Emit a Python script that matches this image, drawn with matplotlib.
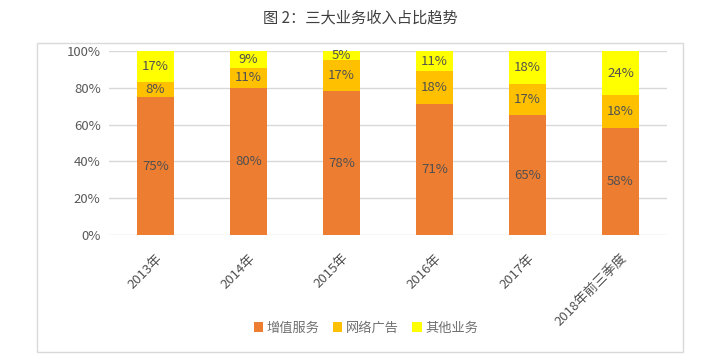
import numpy as np
import matplotlib.pyplot as plt
from matplotlib.patches import Rectangle

plt.rcParams['font.family'] = ['Noto Sans CJK SC', 'DejaVu Sans']

# Data
categories = ['2013年', '2014年', '2015年', '2016年', '2017年', '2018年前三季度']
series_names = ['增值服务', '网络广告', '其他业务']
value_added = [75, 80, 78, 71, 65, 58]
online_ads = [8, 11, 17, 18, 17, 18]
other_biz = [17, 9, 5, 11, 18, 24]
colors = ['#ED7D31', '#FFC000', '#FFFF00']

fig = plt.figure(figsize=(7.2, 3.54), dpi=100)
fig.patch.set_facecolor('white')

# outer chart border
fig.add_artist(Rectangle((37 / 720, 1 - 352 / 354), (683 - 37) / 720, (352 - 43) / 354,
                         transform=fig.transFigure, fill=False, edgecolor='#D9D9D9', lw=1))

ax = fig.add_axes([109 / 720, 1 - 235 / 354, (667 - 109) / 720, (235 - 51) / 354])

x = np.arange(len(categories))
bottom = np.zeros(len(categories))
for name, vals, c in zip(series_names, [value_added, online_ads, other_biz], colors):
    vals = np.array(vals, dtype=float)
    ax.bar(x, vals, 0.4, bottom=bottom, color=c, label=name, zorder=3)
    for xi, b, v in zip(x, bottom, vals):
        ax.text(xi, b + v / 2, f'{int(v)}%', ha='center', va='center',
                fontsize=9.5, color='#505050', zorder=4)
    bottom += vals

ax.set_xlim(-0.5, len(categories) - 0.5)
ax.set_ylim(0, 100)
ax.set_yticks(range(0, 101, 20))
ax.set_yticklabels([f'{t}%' for t in range(0, 101, 20)], fontsize=9.5, color='#595959')
ax.set_xticks(x)
ax.set_xticklabels(categories, rotation=45, ha='right', rotation_mode='anchor',
                   fontsize=9.5, color='#505050')
ax.tick_params(axis='y', length=0, pad=6)
ax.tick_params(axis='x', length=0, pad=12)
ax.grid(axis='y', color='#D9D9D9', lw=1, zorder=0)
for s in ax.spines.values():
    s.set_visible(False)

fig.text(0.5, 1 - 18 / 354, '图 2：三大业务收入占比趋势', ha='center', va='center',
         fontsize=11, color='#404040')

fig.legend(loc='center', bbox_to_anchor=(366 / 720, 1 - 328 / 354), ncol=3,
           frameon=False, fontsize=9.5, handlelength=0.7, handleheight=0.7,
           handletextpad=0.3, columnspacing=1.0, labelcolor='#707070')

fig.savefig('out.png', dpi=100)
